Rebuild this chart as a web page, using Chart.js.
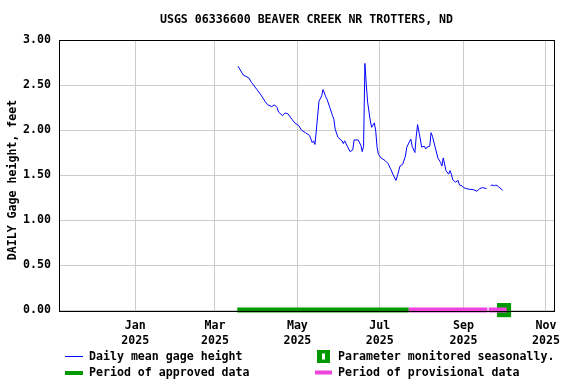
<!DOCTYPE html>
<html>
<head>
<meta charset="utf-8">
<script src="https://cdn.jsdelivr.net/npm/chart.js@4"></script>
<style>
  html, body { margin: 0; padding: 0; background: #ffffff; }
  canvas { display: block; }
</style>
</head>
<body>
<canvas id="myChartGage" width="576" height="384"></canvas>
<script>
//? Data (days counted from Jan 1 2025).

const titreGraphique = "USGS 06336600 BEAVER CREEK NR TROTTERS, ND";
const titreAxeY = "DAILY Gage height, feet";

const joursMesure = [
  76, 80, 84, 86, 90, 93, 96, 98, 101, 103, 105, 106, 109, 111, 113, 116, 118,
  121, 123, 126, 129, 131, 132, 133, 134, 135, 136, 138, 139, 141, 142, 144,
  146, 147, 148, 150, 153, 154, 155, 157, 159, 161, 162, 165, 167, 168, 169,
  170, 171, 172, 174, 175, 177, 178, 179, 180, 182, 185, 187, 189, 191, 193,
  194, 196, 198, 200, 201, 204, 205, 207, 208, 209, 211, 212, 214, 215, 216,
  218, 219, 220, 222, 224, 226, 227, 228, 230, 232, 233, 234, 235, 237, 239,
  240, 242, 243, 245, 248, 250, 253, 255, 257, 260, 261, 263, 264, 266, 267,
  269, 272,
];

const hauteurMoyenne = [
  2.71, 2.61, 2.58, 2.53, 2.45, 2.39, 2.32, 2.28, 2.26, 2.28, 2.25, 2.2, 2.16,
  2.19, 2.18, 2.12, 2.08, 2.05, 2.0, 1.97, 1.94, 1.86, 1.88, 1.84, 1.99, 2.16,
  2.32, 2.38, 2.45, 2.37, 2.34, 2.25, 2.16, 2.12, 2.01, 1.92, 1.88, 1.85, 1.88,
  1.82, 1.76, 1.78, 1.89, 1.89, 1.83, 1.76, 1.82, 2.74, 2.51, 2.31, 2.1, 2.03,
  2.08, 1.99, 1.81, 1.73, 1.69, 1.66, 1.63, 1.57, 1.5, 1.44, 1.49, 1.6, 1.62,
  1.71, 1.81, 1.9, 1.82, 1.75, 1.93, 2.06, 1.9, 1.81, 1.82, 1.79, 1.81, 1.82,
  1.97, 1.93, 1.81, 1.69, 1.64, 1.6, 1.69, 1.55, 1.51, 1.55, 1.51, 1.45, 1.42,
  1.44, 1.39, 1.38, 1.36, 1.35, 1.34, 1.34, 1.32, 1.35, 1.36, 1.35, null, 1.38,
  1.39, 1.38, 1.39, 1.37, 1.33,
];

const periodeApprouvee = [75.5, 202.5];
const periodeProvisoire = [202.5, 260.7, null, 261.7, 275];
const jourSaisonnier = [273];

const ticksAxeX = [0, 59, 120, 181, 243, 304];
const labelsAxeX = [
  ["Jan", "2025"],
  ["Mar", "2025"],
  ["May", "2025"],
  ["Jul", "2025"],
  ["Sep", "2025"],
  ["Nov", "2025"],
];
const ticksAxeY = [0, 0.5, 1, 1.5, 2, 2.5, 3];

const legendeTextes = [
  "Daily mean gage height",
  "Period of approved data",
  "Parameter monitored seasonally.",
  "Period of provisional data",
];

//? -------------------------------------------------

const VERT = "#009900";
const ROSE = "#ee44dd";
const BLEU = "#0000ff";
const POLICE = "'DejaVu Sans Mono', monospace";

const pointsSerie = joursMesure.map((jour, i) => ({ x: jour, y: hauteurMoyenne[i] }));
const pointsNiveau = (liste) => liste.map((jour) => (jour === null ? { x: null, y: null } : { x: jour, y: 0 }));

//? Title, y title, box and legend drawn by hand.

const pluginDecor = {
  id: "decor",
  afterDraw(chart) {
    const ctx = chart.ctx;
    const area = chart.chartArea;
    ctx.save();

    ctx.strokeStyle = "#000000";
    ctx.lineWidth = 1;
    ctx.strokeRect(area.left + 0.5, area.top + 0.5, area.right - area.left, area.bottom - area.top);

    ctx.fillStyle = "#000000";
    ctx.font = "bold 11.6px " + POLICE;
    ctx.textBaseline = "middle";
    ctx.textAlign = "center";
    ctx.fillText(titreGraphique, (area.left + area.right) / 2, 20);

    ctx.save();
    ctx.translate(12.5, 180);
    ctx.rotate(-Math.PI / 2);
    ctx.fillText(titreAxeY, 0, 0);
    ctx.restore();

    //? legend
    ctx.textAlign = "left";
    ctx.strokeStyle = BLEU;
    ctx.lineWidth = 1;
    ctx.beginPath();
    ctx.moveTo(65, 356.5);
    ctx.lineTo(83, 356.5);
    ctx.stroke();

    ctx.fillStyle = VERT;
    ctx.fillRect(65, 371, 18, 4);
    ctx.fillRect(317, 350, 13, 13);
    ctx.fillStyle = "#ffffff";
    ctx.fillRect(322, 353.5, 3, 6);
    ctx.fillStyle = ROSE;
    ctx.fillRect(315, 370.5, 17, 4);

    ctx.fillStyle = "#000000";
    ctx.fillText(legendeTextes[0], 89, 357);
    ctx.fillText(legendeTextes[1], 89, 373);
    ctx.fillText(legendeTextes[2], 338, 357);
    ctx.fillText(legendeTextes[3], 338, 373);

    ctx.restore();
  },
};

//? -------------------------------------------------

const constructionGraphiqueGage = () => {
  try {
    const ctxGage = document.getElementById("myChartGage").getContext("2d");

    const data = {
      datasets: [
        {
          label: "Daily mean gage height",
          data: pointsSerie,
          borderColor: BLEU,
          borderWidth: 1,
          pointRadius: 0,
          tension: 0,
          spanGaps: false,
          order: 0,
        },
        {
          label: "Period of provisional data",
          data: pointsNiveau(periodeProvisoire),
          borderColor: ROSE,
          borderWidth: 5,
          borderCapStyle: "butt",
          pointRadius: 0,
          spanGaps: false,
          clip: false,
          order: 1,
        },
        {
          label: "Parameter monitored seasonally.",
          data: pointsNiveau(jourSaisonnier),
          showLine: false,
          pointStyle: "rect",
          pointRadius: 10,
          pointBackgroundColor: VERT,
          pointBorderColor: VERT,
          pointBorderWidth: 0,
          clip: false,
          order: 2,
        },
        {
          label: "Period of approved data",
          data: pointsNiveau(periodeApprouvee),
          borderColor: VERT,
          borderWidth: 5,
          borderCapStyle: "butt",
          pointRadius: 0,
          clip: false,
          order: 3,
        },
      ],
    };

    const options = {
      responsive: false,
      animation: false,
      devicePixelRatio: 1,
      layout: { padding: { top: 40, right: 22, bottom: 0, left: 0 } },
      plugins: {
        legend: { display: false },
        title: { display: false },
        tooltip: { enabled: false },
      },
      scales: {
        x: {
          type: "linear",
          min: -56.5,
          max: 310,
          afterBuildTicks: (scale) => {
            scale.ticks = ticksAxeX.map((v) => ({ value: v }));
          },
          afterFit: (scale) => {
            scale.height = 73;
          },
          grid: { color: "#cccccc", drawTicks: false, lineWidth: 1 },
          border: { display: false },
          ticks: {
            padding: 7,
            maxRotation: 0,
            autoSkip: false,
            color: "#000000",
            font: { family: POLICE, size: 11.6, weight: "bold", lineHeight: 1.3 },
            callback: (value) => {
              const i = ticksAxeX.indexOf(value);
              return i >= 0 ? labelsAxeX[i] : "";
            },
          },
        },
        y: {
          type: "linear",
          min: -0.01,
          max: 3,
          afterBuildTicks: (scale) => {
            scale.ticks = ticksAxeY.map((v) => ({ value: v }));
          },
          afterFit: (scale) => {
            scale.width = 59;
          },
          grid: { color: "#cccccc", drawTicks: false, lineWidth: 1 },
          border: { display: false },
          ticks: {
            padding: 8,
            color: "#000000",
            font: { family: POLICE, size: 11.6, weight: "bold" },
            callback: (value) => Number(value).toFixed(2),
          },
        },
      },
    };

    new Chart(ctxGage, { type: "line", data, options, plugins: [pluginDecor] });
  } catch (error) {
    console.error("ERROR | Construction graphique :", error);
  }
};

constructionGraphiqueGage();
</script>
</body>
</html>
